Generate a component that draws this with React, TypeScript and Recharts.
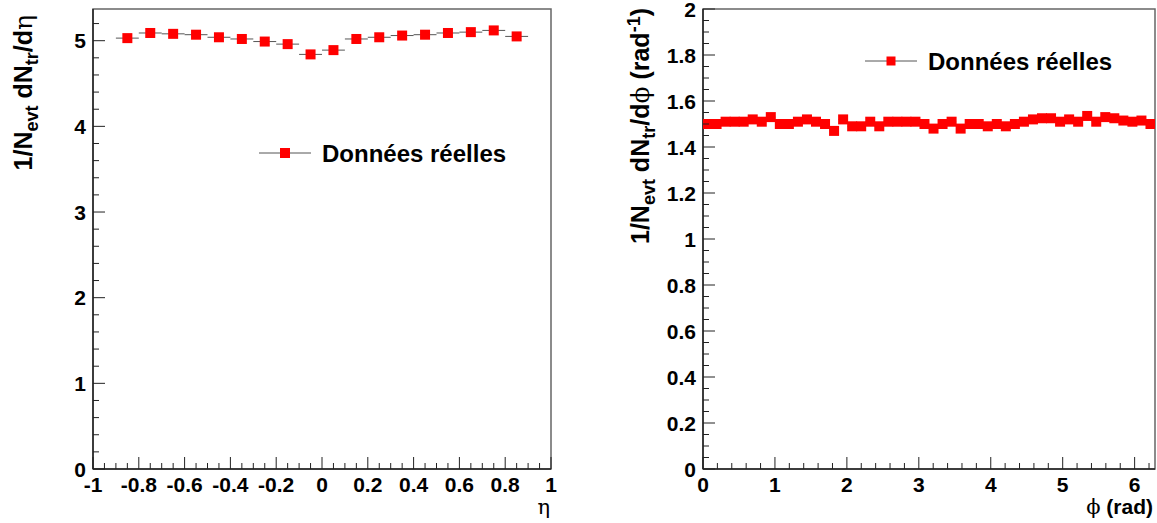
import { ComposedChart, Scatter, ErrorBar, XAxis, YAxis, ReferenceArea, Legend } from 'recharts'

// eta distribution (left pad)
const ETA_CENTERS = [-0.85, -0.75, -0.65, -0.55, -0.45, -0.35, -0.25, -0.15, -0.05, 0.05, 0.15, 0.25, 0.35, 0.45, 0.55, 0.65, 0.75, 0.85]
const ETA_VALUES = [5.03, 5.09, 5.08, 5.07, 5.04, 5.02, 4.99, 4.96, 4.84, 4.89, 5.02, 5.04, 5.06, 5.07, 5.09, 5.1, 5.12, 5.05]
const ETA_HALF_WIDTH = 0.05
const ETA_X_MAJOR = [-1, -0.8, -0.6, -0.4, -0.2, 0, 0.2, 0.4, 0.6, 0.8, 1]
const ETA_Y_MAJOR = [0, 1, 2, 3, 4, 5]

// phi distribution (right pad), 50 bins over [0, 2pi]
const PHI_VALUES = [
  1.5, 1.5, 1.51, 1.51, 1.51, 1.52, 1.51, 1.53, 1.5, 1.5,
  1.51, 1.52, 1.51, 1.5, 1.47, 1.52, 1.49, 1.49, 1.51, 1.49,
  1.51, 1.51, 1.51, 1.51, 1.5, 1.48, 1.5, 1.51, 1.48, 1.5,
  1.5, 1.49, 1.5, 1.49, 1.5, 1.51, 1.52, 1.525, 1.525, 1.51,
  1.52, 1.51, 1.535, 1.51, 1.53, 1.525, 1.515, 1.51, 1.515, 1.5,
]
const PHI_MAX = 2 * Math.PI
const PHI_X_MAJOR = [0, 1, 2, 3, 4, 5, 6]
const PHI_Y_MAJOR = [0, 0.2, 0.4, 0.6, 0.8, 1, 1.2, 1.4, 1.6, 1.8, 2]

const LEGEND_TEXT = 'Données réelles'

const FONT = '"Liberation Sans", Arial, Helvetica, sans-serif'
const AXIS = '#222'
const FRAME = '#666'
const RED = '#ff0000'

const etaData = ETA_CENTERS.map((x, i) => ({ x, y: ETA_VALUES[i], ex: ETA_HALF_WIDTH }))
const phiBin = PHI_MAX / PHI_VALUES.length
const phiData = PHI_VALUES.map((y, i) => ({ x: (i + 0.5) * phiBin, y, ex: phiBin / 2 }))

// minor ticks between majors
function withMinors(majors: number[], step: number, max: number) {
  const out: number[] = []
  for (let v = majors[0]; v <= max + 1e-9; v += step) out.push(Math.round(v * 1000) / 1000)
  return out
}

const isMajor = (v: number, majors: number[]) => majors.some((m) => Math.abs(m - v) < 1e-6)
const fmt = (v: number) => String(Math.round(v * 100) / 100)

function XTick(props: any) {
  const { x, y, payload, majors } = props
  const major = isMajor(payload.value, majors)
  return (
    <g>
      <line x1={x} x2={x} y1={y} y2={y - (major ? 12 : 6)} stroke={AXIS} strokeWidth={1} />
      {major && (
        <text x={x} y={y + 23} textAnchor="middle" fontFamily={FONT} fontWeight="bold" fontSize={21} fill="#000">
          {fmt(payload.value)}
        </text>
      )}
    </g>
  )
}

function YTick(props: any) {
  const { x, y, payload, majors } = props
  const major = isMajor(payload.value, majors)
  return (
    <g>
      <line x1={x} x2={x + (major ? 12 : 6)} y1={y} y2={y} stroke={AXIS} strokeWidth={1} />
      {major && (
        <text x={x - 7} y={y + 7.5} textAnchor="end" fontFamily={FONT} fontWeight="bold" fontSize={21} fill="#000">
          {fmt(payload.value)}
        </text>
      )}
    </g>
  )
}

function Square(props: any) {
  const { cx, cy, size } = props
  if (cx == null || cy == null) return null
  return <rect x={cx - size / 2} y={cy - size / 2} width={size} height={size} fill={RED} />
}

function YTitle({ tx, ty, sym, unit }: any) {
  return (
    <text x={tx} y={ty} transform={`rotate(-90, ${tx}, ${ty})`} textAnchor="end" fontFamily={FONT} fontWeight="bold" fontSize={25} fill="#000">
      1/N<tspan dy={6} fontSize={18}>evt</tspan>
      <tspan dy={-6}> dN</tspan>
      <tspan dy={6} fontSize={18}>tr</tspan>
      <tspan dy={-6}>/d</tspan>
      <tspan fontWeight="normal" fontFamily="DejaVu Serif, serif">{sym}</tspan>
      {unit && (
        <>
          <tspan> (rad</tspan>
          <tspan dy={-9} fontSize={18}>-1</tspan>
          <tspan dy={9}>)</tspan>
        </>
      )}
    </text>
  )
}

function XTitle({ tx, ty, bold, children }: any) {
  return (
    <text x={tx} y={ty} textAnchor="end" fontFamily={bold ? FONT : 'DejaVu Serif, serif'} fontWeight={bold ? 'bold' : 'normal'} fontSize={21} fill="#000">
      {children}
    </text>
  )
}

function LegendBox({ size }: { size: number }) {
  return (
    <svg width={280} height={30} style={{ display: 'block' }}>
      <line x1={0} x2={52} y1={13} y2={13} stroke="#555" strokeWidth={1} />
      <rect x={26 - size / 2} y={13 - size / 2} width={size} height={size} fill={RED} />
      <text x={63} y={22} fontFamily={FONT} fontWeight="bold" fontSize={24} fill="#000">
        {LEGEND_TEXT}
      </text>
    </svg>
  )
}

export default function App() {
  const etaXTicks = withMinors(ETA_X_MAJOR, 0.05, 1)
  const etaYTicks = withMinors(ETA_Y_MAJOR, 0.2, 5.2)
  const phiXTicks = withMinors(PHI_X_MAJOR, 0.2, 6.2)
  const phiYTicks = withMinors(PHI_Y_MAJOR, 0.05, 2)
  const etaYMax = 5.37

  return (
    <div style={{ position: 'absolute', left: 0, top: 0, width: 1157, height: 523, background: '#fff' }}>
      <div style={{ position: 'absolute', left: 0, top: 0 }}>
        <ComposedChart width={600} height={523} data={etaData} margin={{ top: 9, right: 49, bottom: 0, left: 0 }}>
          <ReferenceArea x1={-1} x2={1} y1={0} y2={etaYMax} fill="none" stroke={FRAME} strokeWidth={1.5} />
          <XAxis
            type="number"
            dataKey="x"
            domain={[-1, 1]}
            ticks={etaXTicks}
            interval={0}
            height={54}
            tickSize={0}
            tickMargin={0}
            tickLine={false}
            axisLine={{ stroke: AXIS, strokeWidth: 1.5 }}
            tick={(p: any) => <XTick {...p} majors={ETA_X_MAJOR} />}
            label={<XTitle tx={550} ty={514}>η</XTitle>}
          />
          <YAxis
            type="number"
            dataKey="y"
            domain={[0, etaYMax]}
            allowDataOverflow
            ticks={etaYTicks}
            interval={0}
            width={93}
            tickSize={0}
            tickMargin={0}
            tickLine={false}
            axisLine={{ stroke: AXIS, strokeWidth: 1.5 }}
            tick={(p: any) => <YTick {...p} majors={ETA_Y_MAJOR} />}
            label={<YTitle tx={32} ty={15} sym="η" />}
          />
          <Scatter data={etaData} dataKey="y" isAnimationActive={false} shape={(p: any) => <Square {...p} size={10} />}>
            <ErrorBar dataKey="ex" direction="x" width={0} stroke="#555" strokeWidth={1} />
          </Scatter>
          <Legend
            verticalAlign="middle"
            align="center"
            layout="horizontal"
            content={() => <LegendBox size={10} />}
            wrapperStyle={{ left: 259, top: 140, width: 280, height: 30 }}
          />
        </ComposedChart>
      </div>
      <div style={{ position: 'absolute', left: 600, top: 0 }}>
        <ComposedChart width={557} height={523} data={phiData} margin={{ top: 9, right: 2, bottom: 0, left: 0 }}>
          <ReferenceArea x1={0} x2={PHI_MAX} y1={0} y2={2} fill="none" stroke={FRAME} strokeWidth={1.5} />
          <XAxis
            type="number"
            dataKey="x"
            domain={[0, PHI_MAX]}
            allowDataOverflow
            ticks={phiXTicks}
            interval={0}
            height={54}
            tickSize={0}
            tickMargin={0}
            tickLine={false}
            axisLine={{ stroke: AXIS, strokeWidth: 1.5 }}
            tick={(p: any) => <XTick {...p} majors={PHI_X_MAJOR} />}
            label={
              <XTitle tx={553} ty={514} bold>
                <tspan fontWeight="normal" fontFamily="DejaVu Serif, serif">ϕ</tspan> (rad)
              </XTitle>
            }
          />
          <YAxis
            type="number"
            dataKey="y"
            domain={[0, 2]}
            allowDataOverflow
            ticks={phiYTicks}
            interval={0}
            width={103}
            tickSize={0}
            tickMargin={0}
            tickLine={false}
            axisLine={{ stroke: AXIS, strokeWidth: 1.5 }}
            tick={(p: any) => <YTick {...p} majors={PHI_Y_MAJOR} />}
            label={<YTitle tx={49} ty={8} sym="ϕ" unit />}
          />
          <Scatter data={phiData} dataKey="y" isAnimationActive={false} shape={(p: any) => <Square {...p} size={10} />}>
            <ErrorBar dataKey="ex" direction="x" width={0} stroke="#555" strokeWidth={1} />
          </Scatter>
          <Legend
            verticalAlign="middle"
            align="center"
            layout="horizontal"
            content={() => <LegendBox size={9} />}
            wrapperStyle={{ left: 265, top: 48, width: 280, height: 30 }}
          />
        </ComposedChart>
      </div>
    </div>
  )
}
